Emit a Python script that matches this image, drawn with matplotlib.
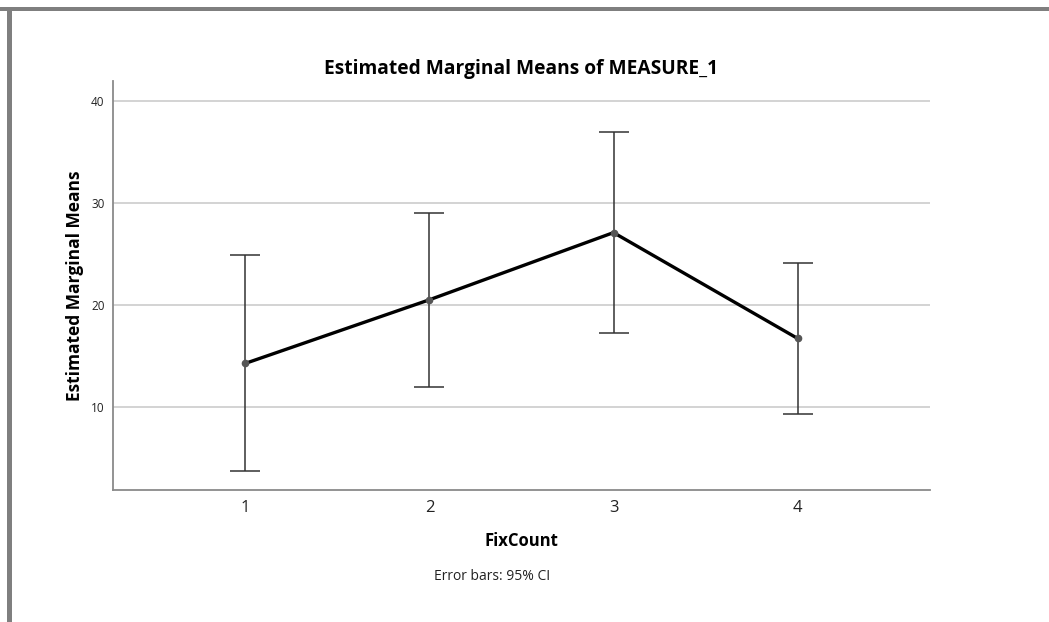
import matplotlib
matplotlib.use("Agg")
import matplotlib.pyplot as plt
from matplotlib.patches import Rectangle

categories = ["1", "2", "3", "4"]
means = [14.25, 20.5, 27.1, 16.7]
ci_lower = [3.66, 11.95, 17.2, 9.23]
ci_upper = [24.87, 29.07, 37.03, 24.13]
yticks = [10, 20, 30, 40]

W, H = 1049, 622
fig = plt.figure(figsize=(W / 100, H / 100), dpi=100)
fig.patch.set_facecolor("white")

# screenshot-style border on top and left
fig.patches.append(Rectangle((0, 1 - 11 / H), 1, 4 / H, transform=fig.transFigure,
                             facecolor="#7f7f7f", edgecolor="none"))
fig.patches.append(Rectangle((7 / W, 0), 5 / W, 1 - 7 / H, transform=fig.transFigure,
                             facecolor="#7f7f7f", edgecolor="none"))

left, right, bottom, top = 113, 930, 490, 81
ax = fig.add_axes([left / W, 1 - bottom / H, (right - left) / W, (bottom - top) / H])

x = list(range(1, len(categories) + 1))
yerr = [[m - l for m, l in zip(means, ci_lower)], [u - m for m, u in zip(means, ci_upper)]]

ax.errorbar(x, means, yerr=yerr, fmt="none", ecolor="#333333", elinewidth=1.1,
            capsize=10.5, capthick=1.1, zorder=3)
ax.plot(x, means, color="black", linewidth=2.4, zorder=4)
ax.plot(x, means, "o", color="#555555", markersize=4.5, zorder=5)

ax.set_xlim(0.28, 4.72)
ax.set_ylim(1.8, 42.0)
ax.set_xticks(x)
ax.set_xticklabels(categories)
ax.set_yticks(yticks)

ax.grid(axis="y", color="#d0d0d0", linewidth=1.3)
ax.set_axisbelow(True)
for s in ["top", "right"]:
    ax.spines[s].set_visible(False)
for s in ["left", "bottom"]:
    ax.spines[s].set_color("#8a8a8a")
    ax.spines[s].set_linewidth(1.3)

ax.tick_params(axis="both", length=0)
ax.tick_params(axis="y", labelsize=8.5, pad=6, labelcolor="#222222")
ax.tick_params(axis="x", labelsize=12, pad=7, labelcolor="#222222")

fam = ["Open Sans", "DejaVu Sans"]
for lbl in ax.get_xticklabels() + ax.get_yticklabels():
    lbl.set_family(fam)

ax.set_title("Estimated Marginal Means of MEASURE_1", fontsize=13.8, fontweight="bold",
             family=fam, pad=5)
ax.set_xlabel("FixCount", fontsize=12, fontweight="bold", family=fam, labelpad=12)
ax.set_ylabel("Estimated Marginal Means", fontsize=12.5, fontweight="bold", family=fam,
              labelpad=5)
fig.text(492 / W, 1 - 576 / H, "Error bars: 95% CI", ha="center", va="center",
         fontsize=10, family=fam, color="#222222")

fig.savefig("out.png", dpi=100, facecolor="white")
